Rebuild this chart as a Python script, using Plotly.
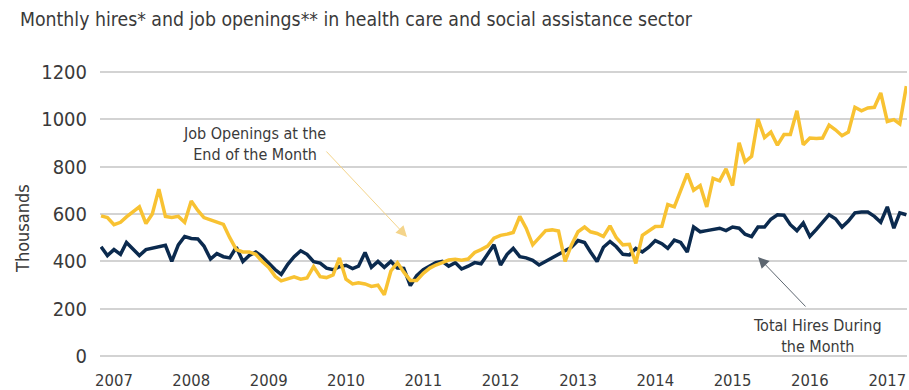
import pandas as pd
import plotly.graph_objects as go

# Monthly dates Nov 2006 .. Apr 2017
months = pd.date_range("2006-11-01", periods=126, freq="MS")

job_openings = [
    592, 585, 555, 565, 588, 610, 630, 560, 600, 705,
    590, 585, 590, 565, 655, 615, 585, 575, 567, 556,
    500, 450, 440, 440, 430, 400, 375, 337, 318, 325,
    335, 325, 330, 378, 336, 332, 343, 415, 325, 305,
    310, 305, 295, 300, 260, 360, 395, 355, 320, 320,
    350, 372, 385, 395, 406, 409, 405, 410, 438, 450,
    465, 498, 510, 515, 522, 590, 540, 470, 500, 530,
    533, 528, 400, 470, 525, 545, 525, 518, 505, 550,
    500, 470, 472, 392, 510, 530, 547, 548, 640, 630,
    700, 770, 700, 720, 630, 750, 740, 790, 720, 900,
    820, 843, 1000, 922, 945, 890, 935, 935, 1035, 892,
    920, 918, 920, 975, 955, 930, 945, 1050, 1035, 1047,
    1050, 1110, 990, 998, 980, 1139,
]

total_hires = [
    462, 425, 450, 430, 480, 450, 425, 450, 455, 462,
    468, 400, 470, 505, 497, 495, 465, 410, 433, 420,
    415, 460, 400, 425, 440, 420, 392, 365, 345, 388,
    420, 445, 430, 399, 393, 372, 365, 378, 384, 370,
    380, 438, 375, 400, 375, 400, 372, 371, 298, 340,
    365, 380, 395, 400, 380, 395, 368, 380, 395, 390,
    430, 470, 385, 430, 455, 420, 415, 405, 385, 400,
    415, 430, 445, 460, 488, 480, 440, 400, 460, 484,
    462, 430, 427, 455, 440, 460, 488, 475, 455, 490,
    480, 440, 545, 525, 530, 536, 540, 530, 545, 540,
    515, 505, 545, 545, 578, 597, 595, 555, 530, 562,
    505, 535, 565, 597, 580, 545, 570, 605, 608, 608,
    590, 565, 630, 540, 605, 597,
]

year_ticks = [f"{y}-01-01" for y in range(2007, 2018)]
year_labels = [str(y) for y in range(2007, 2018)]
y_ticks = [0, 200, 400, 600, 800, 1000, 1200]

FONT = "DejaVu Sans Condensed, DejaVu Sans, sans-serif"
TXT = "#3a3a3a"
YELLOW = "#F8C232"
NAVY = "#0B2A4E"

fig = go.Figure()
fig.add_trace(go.Scatter(x=months, y=total_hires, mode="lines",
                         line=dict(color=NAVY, width=3.5), name="Total Hires"))
fig.add_trace(go.Scatter(x=months, y=job_openings, mode="lines",
                         line=dict(color=YELLOW, width=3.5), name="Job Openings"))

fig.update_layout(
    width=909, height=390,
    margin=dict(l=100, r=2, t=70, b=32),
    paper_bgcolor="white", plot_bgcolor="white",
    showlegend=False,
    font=dict(family=FONT, color=TXT),
    title=dict(text="Monthly hires* and job openings** in health care and social assistance sector",
               x=20 / 909, xanchor="left", xref="container",
               y=1 - 19 / 390, yanchor="middle", yref="container",
               font=dict(family=FONT, size=19.3, color=TXT)),
)
fig.update_xaxes(
    type="date", range=["2006-10-27", "2017-04-04"],
    tickvals=year_ticks, ticktext=year_labels,
    showgrid=False, zeroline=False, showline=False, ticks="",
    tickfont=dict(family=FONT, size=16.5, color=TXT),
    ticklabelstandoff=10, automargin=False,
)
fig.update_yaxes(
    range=[-7, 1207], tickvals=y_ticks,
    showgrid=True, gridcolor="#d3d3d3", gridwidth=2,
    zeroline=False, showline=False, ticks="",
    tickfont=dict(family=FONT, size=20, color=TXT),
    ticklabelstandoff=12, automargin=False,
)

# y-axis title
fig.add_annotation(text="Thousands", xref="paper", yref="paper",
                   x=(23 - 100) / 807, y=(358 - 229) / 288, showarrow=False,
                   xanchor="center", yanchor="middle",
                   textangle=-90, font=dict(family=FONT, size=18, color=TXT))

# Job openings label + arrow
fig.add_annotation(text="Job Openings at the<br>End of the Month", xref="paper", yref="paper",
                   x=(254 - 100) / 807, y=(358 - 144) / 288, showarrow=False,
                   xanchor="center", yanchor="middle",
                   align="center", font=dict(family=FONT, size=16, color=TXT))
fig.add_annotation(text="", xref="paper", yref="paper",
                   x=(407 - 100) / 807, y=(358 - 237) / 288,
                   ax=325 - 407, ay=150 - 237, showarrow=True,
                   arrowhead=2, arrowsize=2.2, arrowwidth=1, arrowcolor="#F4D48A")

# Total hires label + arrow
fig.add_annotation(text="Total Hires During<br>the Month", xref="paper", yref="paper",
                   x=(817 - 100) / 807, y=(358 - 336) / 288, showarrow=False,
                   xanchor="center", yanchor="middle",
                   align="center", font=dict(family=FONT, size=16, color=TXT))
fig.add_annotation(text="", xref="paper", yref="paper",
                   x=(758 - 100) / 807, y=(358 - 257) / 288,
                   ax=807 - 758, ay=308 - 257, showarrow=True,
                   arrowhead=2, arrowsize=2.2, arrowwidth=1, arrowcolor="#5d6670")

fig.write_html("out.html", config={"displayModeBar": False},
               post_script="document.body.style.margin='0px';")
